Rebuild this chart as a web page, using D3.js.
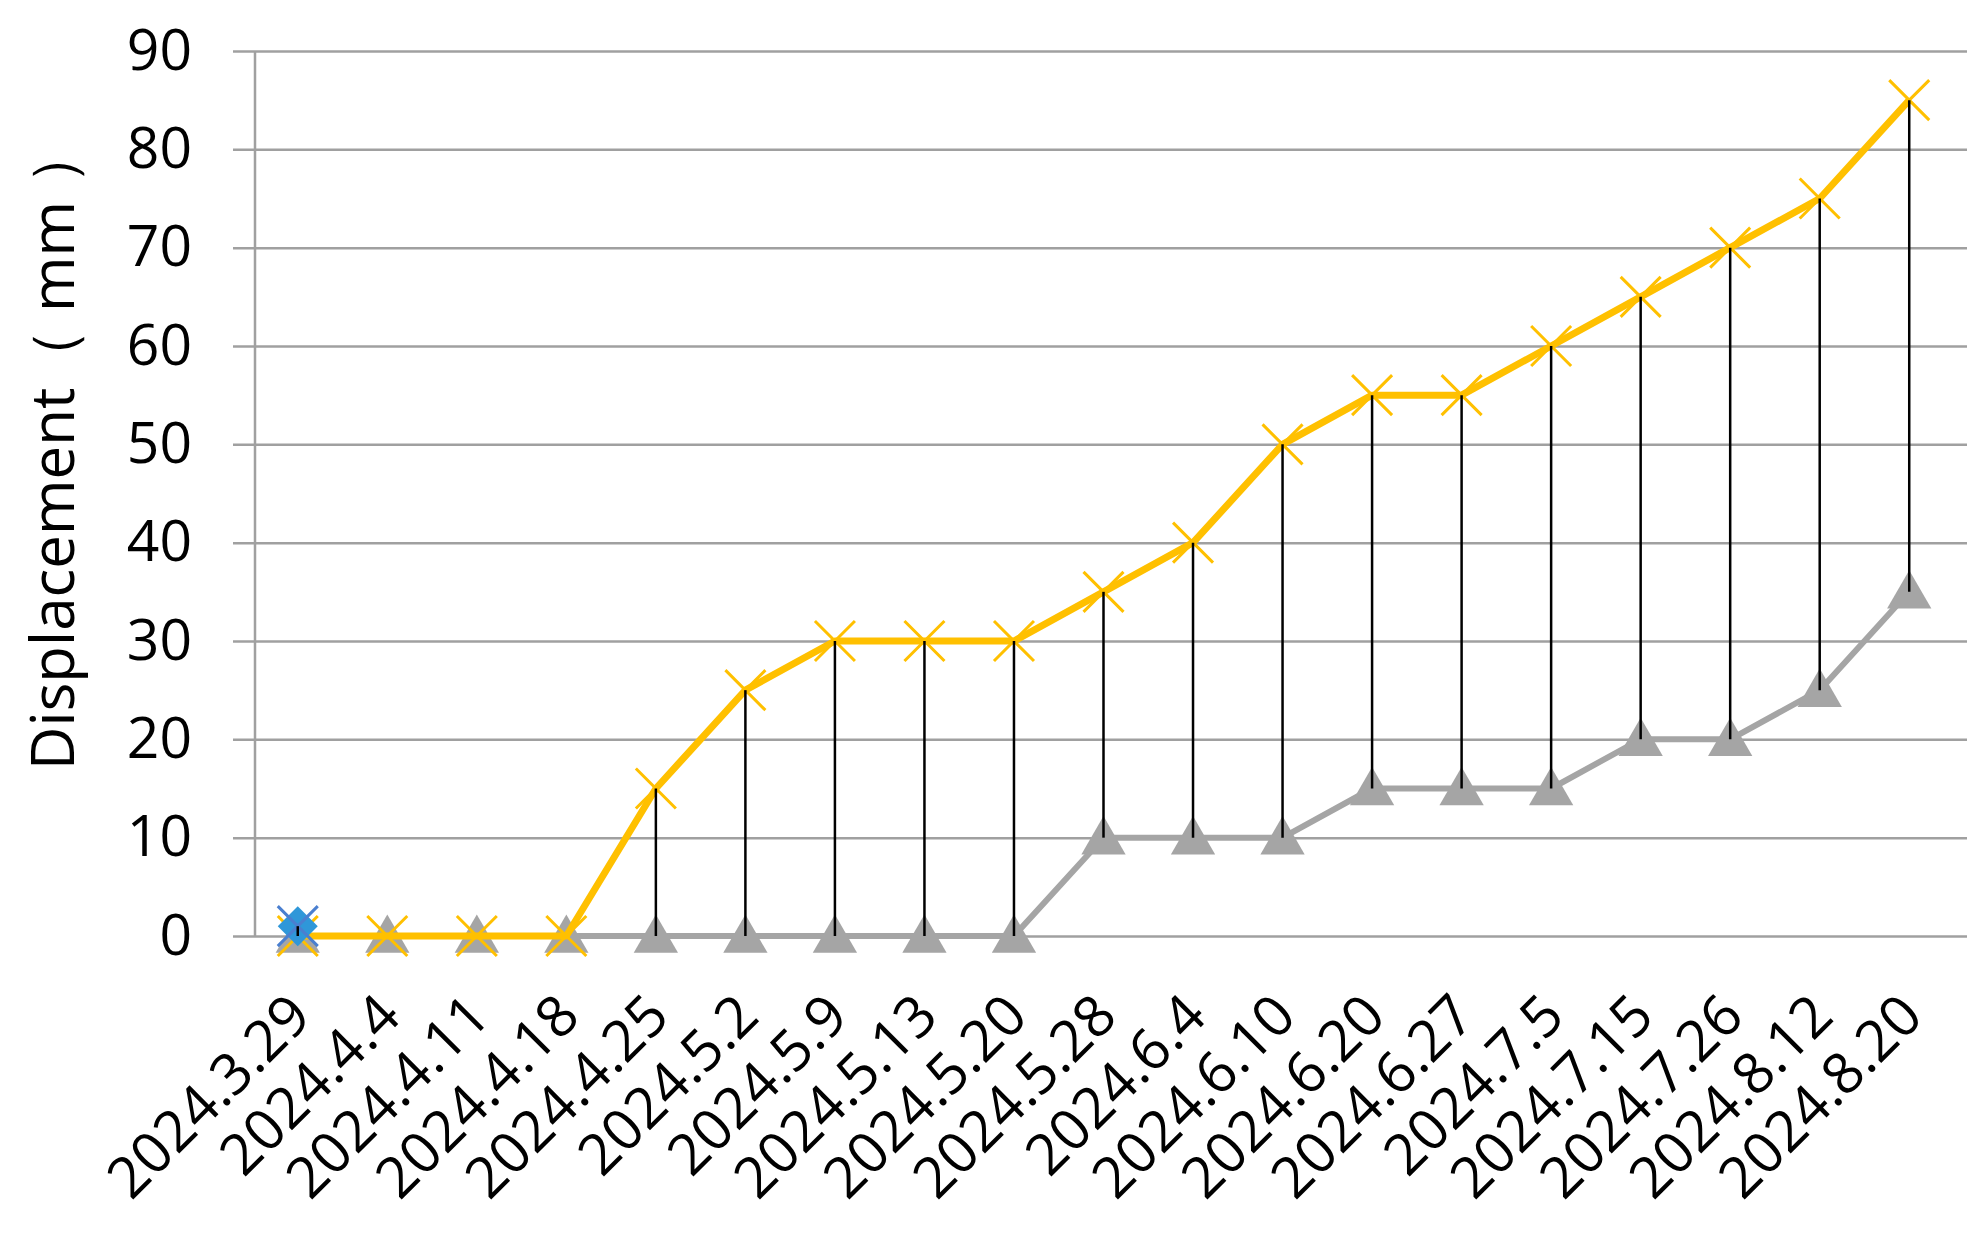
<!DOCTYPE html>
<html>
<head>
<meta charset="utf-8">
<script src="https://cdn.jsdelivr.net/npm/d3@7"></script>
<style>
  body { margin: 0; background: #fff; }
  text { font-family: "Open Sans", "Noto Sans", sans-serif; fill: #000; }
</style>
</head>
<body>
<svg id="chart" width="1986" height="1237"></svg>
<script>
// data
const dates = ['2024.3.29', '2024.4.4', '2024.4.11', '2024.4.18', '2024.4.25', '2024.5.2', '2024.5.9',
  '2024.5.13', '2024.5.20', '2024.5.28', '2024.6.4', '2024.6.10', '2024.6.20', '2024.6.27',
  '2024.7.5', '2024.7.15', '2024.7.26', '2024.8.12', '2024.8.20'];
const upperVals = [0, 0, 0, 0, 15, 25, 30, 30, 30, 35, 40, 50, 55, 55, 60, 65, 70, 75, 85];
const lowerVals = [0, 0, 0, 0, 0, 0, 0, 0, 0, 10, 10, 10, 15, 15, 15, 20, 20, 25, 35];
const startVals = [1, null, null, null, null, null, null, null, null, null, null, null, null, null, null, null, null, null, null];
const yTicks = [0, 10, 20, 30, 40, 50, 60, 70, 80, 90];

const svg = d3.select('#chart');
svg.append('rect').attr('width', 1986).attr('height', 1237).attr('fill', '#fff');

const x = d3.scalePoint().domain(dates).range([253, 1954]).padding(0.5);
const y = d3.scaleLinear().domain([0, 90]).range([936, 51]);

// gridlines + y tick labels
const yAxis = svg.append('g')
  .attr('transform', 'translate(233,0)')
  .call(d3.axisLeft(y).tickValues(yTicks).tickSize(-1734).tickPadding(41));
yAxis.select('.domain').remove();
yAxis.selectAll('.tick line').attr('stroke', '#a0a0a0').attr('stroke-width', 2.5);
yAxis.selectAll('.tick text').attr('font-size', 57).attr('font-family', '"Open Sans", sans-serif').attr('fill', '#000');

// vertical axis line
svg.append('line')
  .attr('x1', 255).attr('x2', 255).attr('y1', y(90)).attr('y2', y(0))
  .attr('stroke', '#a0a0a0').attr('stroke-width', 2.5);

// x tick labels, rotated
svg.append('g').selectAll('text').data(dates).join('text')
  .attr('transform', d => 'translate(' + (x(d) + 16) + ',1019) rotate(-45)')
  .attr('text-anchor', 'end')
  .attr('font-size', 57)
  .text(d => d);

// y axis title
svg.append('text')
  .attr('transform', 'translate(74,770) rotate(-90)')
  .attr('text-anchor', 'start')
  .attr('font-size', 60)
  .text('Displacement（ mm ）');

const line = d3.line().defined(d => d != null).x((d, i) => x(dates[i])).y(d => y(d));

// lower series (grey, triangles)
svg.append('path').datum(lowerVals)
  .attr('d', line).attr('fill', 'none').attr('stroke', '#a5a5a5').attr('stroke-width', 6)
  .attr('stroke-linejoin', 'round');
const tri = d3.symbol().type(d3.symbolTriangle).size(850);
svg.append('g').selectAll('path').data(lowerVals).join('path')
  .attr('d', tri)
  .attr('transform', (d, i) => 'translate(' + x(dates[i]) + ',' + (y(d) + 4) + ')')
  .attr('fill', '#a5a5a5');

// upper series (yellow, crosses)
svg.append('path').datum(upperVals)
  .attr('d', line).attr('fill', 'none').attr('stroke', '#ffc000').attr('stroke-width', 7)
  .attr('stroke-linejoin', 'round');
const cross = 'M-20,-20L20,20M-20,20L20,-20';
svg.append('g').selectAll('path').data(upperVals).join('path')
  .attr('d', cross)
  .attr('transform', (d, i) => 'translate(' + x(dates[i]) + ',' + y(d) + ')')
  .attr('stroke', '#ffc000').attr('stroke-width', 3).attr('fill', 'none');

// start reading (blue)
const starts = startVals.map((v, i) => ({ d: dates[i], v: v })).filter(p => p.v != null);
svg.append('g').selectAll('path').data(starts).join('path')
  .attr('d', 'M0,-20L20,0L0,20L-20,0Z')
  .attr('transform', p => 'translate(' + x(p.d) + ',' + y(p.v) + ')')
  .attr('fill', '#2f97d9');
svg.append('g').selectAll('path').data(starts).join('path')
  .attr('d', cross)
  .attr('transform', p => 'translate(' + x(p.d) + ',' + y(p.v) + ')')
  .attr('stroke', '#4a7fd0').attr('stroke-width', 3).attr('fill', 'none');

// high-low lines
const hiLo = dates.map((d, i) => {
  const vals = [upperVals[i], lowerVals[i], startVals[i]].filter(v => v != null);
  return { d: d, hi: d3.max(vals), lo: d3.min(vals) };
});
svg.append('g').selectAll('line').data(hiLo.filter(h => h.hi > h.lo)).join('line')
  .attr('x1', h => x(h.d)).attr('x2', h => x(h.d))
  .attr('y1', h => y(h.hi)).attr('y2', h => y(h.lo))
  .attr('stroke', '#000').attr('stroke-width', 2.5);
</script>
</body>
</html>
